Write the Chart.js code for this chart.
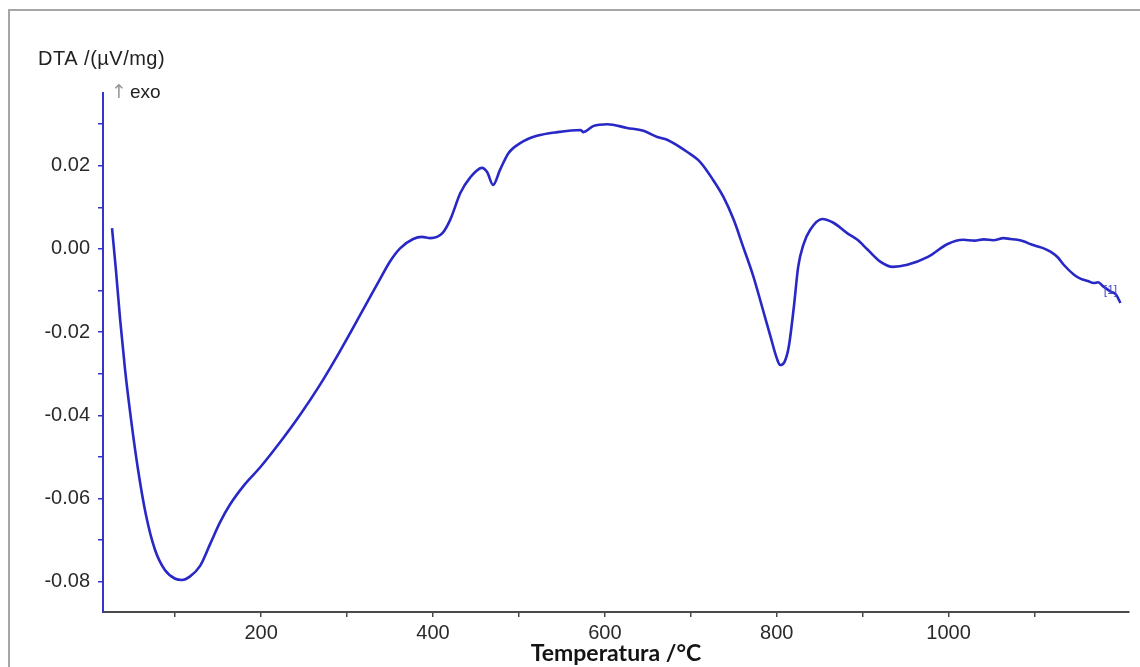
<!DOCTYPE html>
<html>
<head>
<meta charset="utf-8">
<script src="https://cdn.jsdelivr.net/npm/chart.js@4.4.1/dist/chart.umd.min.js"></script>
<style>
  html, body { margin: 0; padding: 0; background: #fff; }
  #wrap { width: 1140px; height: 667px; }
</style>
</head>
<body>
<div id="wrap"><canvas id="dtaChart" width="1140" height="667"></canvas></div>
<script>
// temperature (°C) and DTA signal (µV/mg)
const temps = [26.5, 31, 36, 41.7, 48.7, 56.8, 66, 76.6, 88, 100, 108, 117, 129, 141, 152, 164, 181, 199,
  222, 245, 269, 292, 315, 339, 350, 362, 377, 387, 397, 411, 420, 432, 443, 457, 463, 470, 478, 488,
  502, 521, 545, 572, 575, 587, 603, 626, 645, 661, 673, 696, 711, 726, 738, 750, 761, 773, 783, 793,
  800, 804, 809, 814, 820, 825, 831, 839, 853, 866, 882, 894, 906, 921, 935, 952, 976, 999, 1017,
  1030, 1041, 1052, 1064, 1072, 1080, 1088, 1095, 1104, 1110, 1119, 1127, 1134, 1146, 1154, 1162,
  1169, 1174, 1180, 1189, 1195, 1200];
const dta = [0.0050, -0.0050, -0.0171, -0.0291, -0.0411, -0.0531, -0.0640, -0.0724, -0.0772, -0.0793,
  -0.0796, -0.0788, -0.0762, -0.0708, -0.0658, -0.0614, -0.0566, -0.0525,
  -0.0465, -0.0400, -0.0325, -0.0245, -0.0160, -0.0070, -0.0030, 0.0002, 0.0024, 0.0029, 0.0026,
  0.0038, 0.0070, 0.0135, 0.0171, 0.0195, 0.0185, 0.0154, 0.0190, 0.0231,
  0.0255, 0.0272, 0.0281, 0.0286, 0.0281, 0.0296, 0.0300, 0.0291, 0.0284, 0.0269, 0.0262, 0.0233,
  0.0209, 0.0166, 0.0125, 0.0070, 0.0005, -0.0067, -0.0139, -0.0212,
  -0.0262, -0.0279, -0.0272, -0.0236, -0.0139, -0.0043, 0.0010, 0.0046, 0.0072, 0.0063, 0.0038,
  0.0022, -0.0002, -0.0031, -0.0043, -0.0038, -0.0019, 0.0012, 0.0022,
  0.0020, 0.0023, 0.0021, 0.0026, 0.0024, 0.0022, 0.0018, 0.0012, 0.0006, 0.0002, -0.0007, -0.0020,
  -0.0038, -0.0062, -0.0072, -0.0077,
  -0.0082, -0.0080, -0.0090, -0.0103, -0.0110, -0.0130];

// tick positions (every one gets a mark, labelled ones listed separately)
const xTicks = [100, 200, 300, 400, 500, 600, 700, 800, 900, 1000, 1100];
const xLabels = [200, 400, 600, 800, 1000];
const yTicks = [-0.08, -0.07, -0.06, -0.05, -0.04, -0.03, -0.02, -0.01, 0, 0.01, 0.02, 0.03];
const yLabels = [-0.08, -0.06, -0.04, -0.02, 0, 0.02];

const xMin = 16, xMax = 1210;
const yMin = -0.0873, yMax = 0.0375;

const tickFont = { family: '"Liberation Sans", Arial, sans-serif', size: 20 };
const lineBlue = '#2828c6';

// gray frame + free texts around the plot
const decorations = {
  id: 'decorations',
  beforeDraw(chart) {
    const { ctx } = chart;
    ctx.save();
    ctx.strokeStyle = '#a6a6a6';
    ctx.lineWidth = 2;
    ctx.beginPath();
    ctx.moveTo(9, 667);
    ctx.lineTo(9, 10);
    ctx.lineTo(1140, 10);
    ctx.stroke();
    ctx.restore();
  },
  afterDraw(chart) {
    const { ctx, scales } = chart;
    ctx.save();
    ctx.textBaseline = 'alphabetic';
    ctx.textAlign = 'left';
    ctx.fillStyle = '#222';
    ctx.font = '20px "Liberation Sans", Arial, sans-serif';
    ctx.letterSpacing = '0.5px';
    ctx.fillText('DTA /(µV/mg)', 38, 65);
    ctx.letterSpacing = '0px';
    ctx.font = '19px "Liberation Sans", Arial, sans-serif';
    ctx.fillText('exo', 130, 98);
    ctx.fillStyle = '#9a9a9a';
    ctx.font = '19px "DejaVu Sans", sans-serif';
    ctx.fillText('↑', 111, 98);
    // segment marker at the end of the curve
    ctx.fillStyle = '#4a4ac8';
    ctx.font = '12px "Liberation Sans", Arial, sans-serif';
    ctx.fillText('[1]', scales.x.getPixelForValue(1183) - 2, scales.y.getPixelForValue(-0.0108));
    ctx.restore();
  }
};

new Chart(document.getElementById('dtaChart').getContext('2d'), {
  type: 'line',
  data: {
    datasets: [{
      data: temps.map((t, i) => ({ x: t, y: dta[i] })),
      borderColor: lineBlue,
      borderWidth: 2.6,
      pointRadius: 0,
      fill: false,
      cubicInterpolationMode: 'monotone',
    }],
  },
  options: {
    responsive: false,
    animation: false,
    layout: { padding: { top: 93, right: 11, left: 0, bottom: 0 } },
    plugins: {
      legend: { display: false },
      tooltip: { enabled: false },
    },
    scales: {
      x: {
        type: 'linear',
        position: 'bottom',
        min: xMin,
        max: xMax,
        border: { color: '#4a4a4a', width: 2 },
        grid: { drawOnChartArea: false, drawTicks: true, tickLength: 5, color: '#4a4a4a', lineWidth: 1.5 },
        afterBuildTicks: (scale) => { scale.ticks = xTicks.map(v => ({ value: v })); },
        ticks: {
          autoSkip: false,
          maxRotation: 0,
          padding: 4,
          color: '#2a2a2a',
          font: tickFont,
          callback: (v) => (xLabels.includes(v) ? String(v) : ''),
        },
        title: {
          display: true,
          text: 'Temperatura /°C',
          color: '#141414',
          font: { family: 'Lato, "Open Sans", sans-serif', size: 23, weight: 'bold' },
          padding: { top: 0, bottom: 0 },
        },
        afterFit: (scale) => { scale.height = 55; },
      },
      y: {
        type: 'linear',
        min: yMin,
        max: yMax,
        border: { color: '#3434c8', width: 2 },
        grid: { drawOnChartArea: false, drawTicks: true, tickLength: 5, color: '#3434c8', lineWidth: 1.5 },
        afterBuildTicks: (scale) => { scale.ticks = yTicks.map(v => ({ value: v })); },
        ticks: {
          autoSkip: false,
          padding: 8,
          color: '#2a2a2a',
          font: tickFont,
          callback: (v) => (yLabels.some(l => Math.abs(l - v) < 1e-9) ? v.toFixed(2) : ''),
        },
        afterFit: (scale) => { scale.width = 103; },
      },
    },
  },
  plugins: [decorations],
});
</script>
</body>
</html>
